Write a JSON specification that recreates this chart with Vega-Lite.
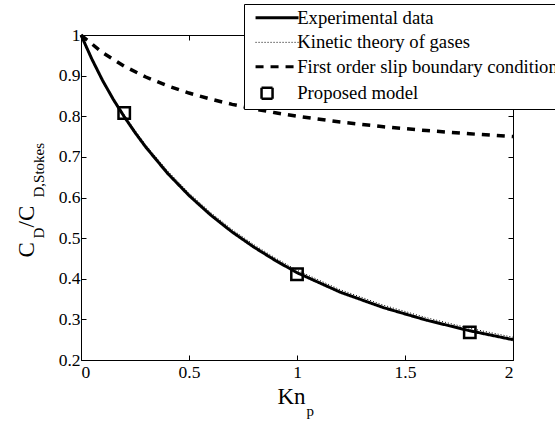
{
  "$schema": "https://vega.github.io/schema/vega-lite/v6.json",
  "width": 432,
  "height": 325,
  "autosize": {"type": "none"},
  "padding": {"left": 81, "top": 35, "right": 42, "bottom": 61},
  "background": "white",
  "config": {
    "view": {"stroke": null},
    "font": "Liberation Serif",
    "style": {"guide-label": {"font": "Liberation Serif", "fontSize": 17.5, "fill": "black"}, "guide-title": {"font": "Liberation Serif"}},
    "axis": {
      "grid": false,
      "domainColor": "black",
      "tickColor": "black",
      "labelColor": "black",
      "titleColor": "black",
      "labelFont": "Liberation Serif",
      "titleFont": "Liberation Serif",
      "labelFontSize": 17.5,
      "titleFontWeight": "normal",
      "tickSize": -5,
      "tickWidth": 1,
      "domainWidth": 1
    }
  },
  "datasets": {
    "curves": [
      {"s": "Experimental data", "kn": 0, "v": 1},
      {"s": "Experimental data", "kn": 0.05, "v": 0.941},
      {"s": "Experimental data", "kn": 0.1, "v": 0.888},
      {"s": "Experimental data", "kn": 0.15, "v": 0.841},
      {"s": "Experimental data", "kn": 0.2, "v": 0.799},
      {"s": "Experimental data", "kn": 0.25, "v": 0.76},
      {"s": "Experimental data", "kn": 0.3, "v": 0.724},
      {"s": "Experimental data", "kn": 0.4, "v": 0.66},
      {"s": "Experimental data", "kn": 0.5, "v": 0.605},
      {"s": "Experimental data", "kn": 0.6, "v": 0.557},
      {"s": "Experimental data", "kn": 0.7, "v": 0.515},
      {"s": "Experimental data", "kn": 0.8, "v": 0.478},
      {"s": "Experimental data", "kn": 0.9, "v": 0.445},
      {"s": "Experimental data", "kn": 1.0, "v": 0.415},
      {"s": "Experimental data", "kn": 1.2, "v": 0.367},
      {"s": "Experimental data", "kn": 1.4, "v": 0.329},
      {"s": "Experimental data", "kn": 1.6, "v": 0.298},
      {"s": "Experimental data", "kn": 1.8, "v": 0.272},
      {"s": "Experimental data", "kn": 2.0, "v": 0.25},
      {"s": "Kinetic theory of gases", "kn": 0, "v": 1},
      {"s": "Kinetic theory of gases", "kn": 0.05, "v": 0.942},
      {"s": "Kinetic theory of gases", "kn": 0.1, "v": 0.89},
      {"s": "Kinetic theory of gases", "kn": 0.15, "v": 0.844},
      {"s": "Kinetic theory of gases", "kn": 0.2, "v": 0.803},
      {"s": "Kinetic theory of gases", "kn": 0.25, "v": 0.765},
      {"s": "Kinetic theory of gases", "kn": 0.3, "v": 0.729},
      {"s": "Kinetic theory of gases", "kn": 0.4, "v": 0.666},
      {"s": "Kinetic theory of gases", "kn": 0.5, "v": 0.611},
      {"s": "Kinetic theory of gases", "kn": 0.6, "v": 0.563},
      {"s": "Kinetic theory of gases", "kn": 0.7, "v": 0.521},
      {"s": "Kinetic theory of gases", "kn": 0.8, "v": 0.484},
      {"s": "Kinetic theory of gases", "kn": 0.9, "v": 0.451},
      {"s": "Kinetic theory of gases", "kn": 1.0, "v": 0.421},
      {"s": "Kinetic theory of gases", "kn": 1.2, "v": 0.373},
      {"s": "Kinetic theory of gases", "kn": 1.4, "v": 0.335},
      {"s": "Kinetic theory of gases", "kn": 1.6, "v": 0.304},
      {"s": "Kinetic theory of gases", "kn": 1.8, "v": 0.278},
      {"s": "Kinetic theory of gases", "kn": 2.0, "v": 0.256},
      {"s": "First order slip boundary condition", "kn": 0, "v": 1},
      {"s": "First order slip boundary condition", "kn": 0.1, "v": 0.9565},
      {"s": "First order slip boundary condition", "kn": 0.2, "v": 0.9231},
      {"s": "First order slip boundary condition", "kn": 0.3, "v": 0.8966},
      {"s": "First order slip boundary condition", "kn": 0.4, "v": 0.875},
      {"s": "First order slip boundary condition", "kn": 0.5, "v": 0.8571},
      {"s": "First order slip boundary condition", "kn": 0.6, "v": 0.8421},
      {"s": "First order slip boundary condition", "kn": 0.7, "v": 0.8293},
      {"s": "First order slip boundary condition", "kn": 0.8, "v": 0.8182},
      {"s": "First order slip boundary condition", "kn": 0.9, "v": 0.8085},
      {"s": "First order slip boundary condition", "kn": 1.0, "v": 0.8},
      {"s": "First order slip boundary condition", "kn": 1.2, "v": 0.7857},
      {"s": "First order slip boundary condition", "kn": 1.4, "v": 0.7742},
      {"s": "First order slip boundary condition", "kn": 1.6, "v": 0.7647},
      {"s": "First order slip boundary condition", "kn": 1.8, "v": 0.7568},
      {"s": "First order slip boundary condition", "kn": 2.0, "v": 0.75}
    ],
    "pts": [
      {"s": "Proposed model", "kn": 0.2, "v": 0.808},
      {"s": "Proposed model", "kn": 1.0, "v": 0.411},
      {"s": "Proposed model", "kn": 1.8, "v": 0.268}
    ]
  },
  "layer": [
    {
      "data": {"name": "curves"},
      "transform": [{"filter": "datum.s === 'Experimental data'"}],
      "mark": {"type": "line", "color": "black", "strokeWidth": 3},
      "encoding": {
        "x": {
          "field": "kn", "type": "quantitative",
          "scale": {"domain": [0, 2], "nice": false},
          "axis": {
            "orient": "bottom", "values": [0, 0.5, 1, 1.5, 2], "format": "~g",
            "labelPadding": 8, "labelFont": "Liberation Serif", "labelFontSize": 17.5, "labelColor": "black",
            "title": "Kn", "titleFontSize": 23, "titleX": 196, "titleY": 43,
            "titleAlign": "left", "titleBaseline": "alphabetic", "titleAngle": 0
          }
        },
        "y": {
          "field": "v", "type": "quantitative",
          "scale": {"domain": [0.2, 1], "nice": false, "zero": false},
          "axis": {
            "orient": "left", "values": [0.2, 0.3, 0.4, 0.5, 0.6, 0.7, 0.8, 0.9, 1], "format": "~g",
            "labelPadding": 6, "labelFont": "Liberation Serif", "labelFontSize": 17.5, "labelColor": "black",
            "title": "C", "titleFontSize": 23, "titleX": -48, "titleY": 222,
            "titleAlign": "left", "titleBaseline": "alphabetic", "titleAngle": 270
          }
        },
        "strokeDash": {
          "field": "s", "type": "nominal",
          "scale": {
            "domain": ["Experimental data", "Kinetic theory of gases", "First order slip boundary condition", "Proposed model"],
            "range": [[1, 0], [1, 2], [8, 7], [1, 0]]
          },
          "legend": {
            "title": null, "orient": "none", "legendX": 163, "legendY": -31,
            "strokeColor": "black", "fillColor": "white", "padding": 4.5, "cornerRadius": 0,
            "labelFont": "Liberation Serif", "labelFontSize": 18.7, "labelColor": "black", "labelLimit": 500,
            "rowPadding": 4.5, "symbolSize": 100, "symbolOffset": 19.2, "labelOffset": 10.8,
            "symbolStrokeColor": "black", "symbolStrokeWidth": 3, "symbolType": "stroke",
            "encode": {
              "symbols": {
                "update": {
                  "shape": {"signal": "datum.value === 'Proposed model' ? 'M-3.1,-1.1H-0.9V1.1H-3.1Z' : 'M-4.3,0H4.3'"},
                  "strokeWidth": {"signal": "datum.value === 'Kinetic theory of gases' ? 1 : (datum.value === 'Proposed model' ? 2.5 : 3)"},
                  "stroke": {"value": "black"},
                  "fill": {"value": "transparent"},
                  "size": {"value": 100},
                  "opacity": {"value": 1}
                }
              }
            }
          }
        }
      }
    },
    {
      "data": {"name": "curves"},
      "transform": [{"filter": "datum.s === 'Kinetic theory of gases'"}],
      "mark": {"type": "line", "color": "black", "strokeWidth": 1, "strokeDash": [1, 2]},
      "encoding": {
        "x": {"field": "kn", "type": "quantitative", "axis": {"orient": "top", "values": [0, 0.5, 1, 1.5, 2], "labels": false, "title": null}},
        "y": {"field": "v", "type": "quantitative", "axis": {"orient": "right", "values": [0.2, 0.3, 0.4, 0.5, 0.6, 0.7, 0.8, 0.9, 1], "labels": false, "title": null}}
      }
    },
    {
      "data": {"name": "curves"},
      "transform": [{"filter": "datum.s === 'First order slip boundary condition'"}],
      "mark": {"type": "line", "color": "black", "strokeWidth": 3.5, "strokeDash": [8, 7], "strokeCap": "butt"},
      "encoding": {
        "x": {"field": "kn", "type": "quantitative", "axis": {
          "orient": "bottom", "domain": false, "ticks": false, "labels": false,
          "title": "p", "titleFontSize": 15, "titleX": 225, "titleY": 55,
          "titleAlign": "left", "titleBaseline": "alphabetic", "titleAngle": 0}},
        "y": {"field": "v", "type": "quantitative", "axis": {
          "orient": "left", "domain": false, "ticks": false, "labels": false,
          "title": "D", "titleFontSize": 15, "titleX": -38, "titleY": 203,
          "titleAlign": "left", "titleBaseline": "alphabetic", "titleAngle": 270}}
      }
    },
    {
      "data": {"name": "pts"},
      "mark": {"type": "point", "shape": "square", "filled": false, "stroke": "black", "strokeWidth": 2.5, "size": 130, "opacity": 1},
      "encoding": {
        "x": {"field": "kn", "type": "quantitative", "axis": null},
        "y": {"field": "v", "type": "quantitative", "axis": {
          "orient": "left", "domain": false, "ticks": false, "labels": false,
          "title": "/C", "titleFontSize": 23, "titleX": -48, "titleY": 192,
          "titleAlign": "left", "titleBaseline": "alphabetic", "titleAngle": 270}}
      }
    },
    {
      "data": {"name": "pts"},
      "mark": {"type": "point", "opacity": 0},
      "encoding": {
        "x": {"field": "kn", "type": "quantitative", "axis": null},
        "y": {"field": "v", "type": "quantitative", "axis": {
          "orient": "left", "domain": false, "ticks": false, "labels": false,
          "title": "D,Stokes", "titleFontSize": 15, "titleX": -38, "titleY": 162,
          "titleAlign": "left", "titleBaseline": "alphabetic", "titleAngle": 270}}
      }
    }
  ],
  "resolve": {"axis": {"x": "independent", "y": "independent"}}
}
